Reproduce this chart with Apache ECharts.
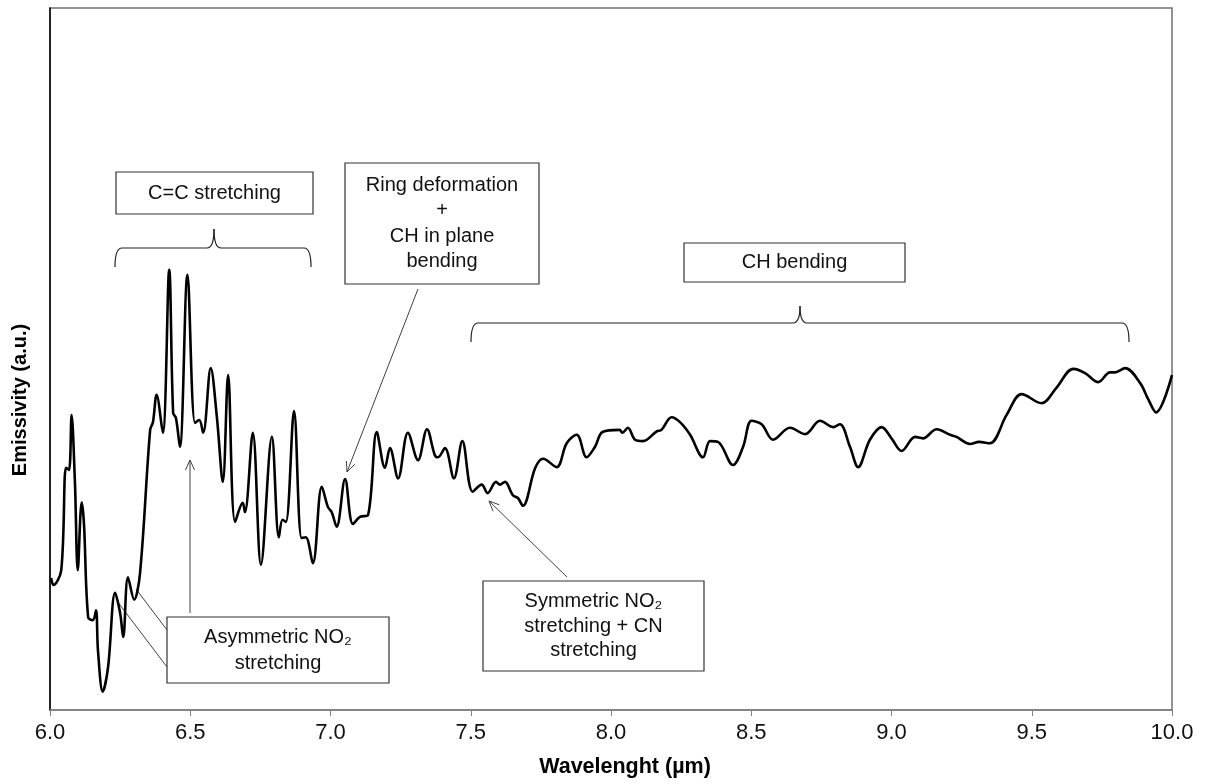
<!DOCTYPE html>
<html>
<head>
<meta charset="utf-8">
<script src="https://cdn.jsdelivr.net/npm/echarts@6/dist/echarts.min.js"></script>
<style>
html,body{margin:0;padding:0;background:#fff;}
#chart{width:1208px;height:784px;}
</style>
</head>
<body>
<div id="chart"></div>
<script>
// Wavelength (µm)
const wavelength = [6.004,6.012,6.040,6.057,6.068,6.077,6.089,6.099,6.113,6.121,6.136,6.153,6.164,6.171,6.188,6.207,6.232,6.250,6.261,6.278,6.300,6.321,6.357,6.367,6.380,6.402,6.425,6.439,6.449,6.463,6.490,6.517,6.532,6.546,6.573,6.595,6.616,6.635,6.660,6.687,6.695,6.723,6.752,6.791,6.816,6.829,6.841,6.870,6.897,6.912,6.937,6.969,6.991,7.004,7.022,7.052,7.080,7.105,7.134,7.165,7.194,7.212,7.241,7.276,7.312,7.344,7.372,7.383,7.408,7.440,7.470,7.507,7.539,7.560,7.590,7.604,7.622,7.650,7.668,7.686,7.730,7.758,7.806,7.842,7.878,7.913,7.943,7.970,8.030,8.041,8.060,8.086,8.114,8.163,8.180,8.216,8.246,8.282,8.328,8.353,8.381,8.435,8.471,8.501,8.537,8.578,8.638,8.692,8.745,8.792,8.816,8.852,8.881,8.923,8.965,9.000,9.036,9.084,9.112,9.161,9.209,9.232,9.280,9.312,9.351,9.410,9.464,9.535,9.588,9.648,9.690,9.737,9.779,9.797,9.833,9.886,9.916,9.943,10.000];
// Emissivity (a.u.)
const emissivity = [18.8,17.8,19.9,34.5,34.2,42.0,32.3,19.9,29.6,26.6,13.2,12.8,14.2,8.5,2.6,6.1,16.7,13.8,10.4,18.9,15.7,19.5,39.9,41.0,44.9,39.5,62.7,42.3,41.6,37.5,62.0,40.9,41.3,39.5,48.7,41.7,32.5,47.7,26.8,29.5,28.2,39.5,20.7,38.9,24.6,27.1,26.8,42.6,24.5,24.6,20.9,31.8,28.9,28.2,26.1,32.9,26.5,27.5,27.8,39.6,34.5,37.3,33.0,39.5,35.6,40.0,36.3,36.0,37.3,33.0,38.3,31.1,32.1,30.9,32.5,32.1,32.5,30.6,30.2,29.1,34.5,35.8,34.6,38.0,39.2,36.0,37.5,39.6,39.9,39.5,40.2,38.5,38.3,39.7,39.9,41.7,41.0,39.2,36.0,38.3,38.2,34.9,37.5,41.2,40.7,38.5,40.2,39.3,41.2,40.3,40.7,37.5,34.6,38.5,40.3,38.7,36.9,38.9,38.7,40.0,39.2,38.9,37.9,38.2,38.0,42.0,45.0,43.7,45.9,48.6,48.0,46.7,48.1,48.1,48.7,46.6,44.2,42.4,47.7];
const xTicks = [6.0,6.5,7.0,7.5,8.0,8.5,9.0,9.5,10.0];

const FONT = '"Liberation Sans", Arial, sans-serif';
const seriesData = wavelength.map((w, i) => [w, emissivity[i]]);
const LINE_STYLE = {stroke:'#404040', lineWidth:1};

function arrow(x1, y1, x2, y2) {
  const ang = Math.atan2(y2 - y1, x2 - x1);
  const L = 11, a = 0.42;
  const p1 = [x2 - L * Math.cos(ang - a), y2 - L * Math.sin(ang - a)];
  const p2 = [x2 - L * Math.cos(ang + a), y2 - L * Math.sin(ang + a)];
  return [
    {type:'line', shape:{x1, y1, x2, y2}, style:LINE_STYLE},
    {type:'polyline', shape:{points:[p1,[x2,y2],p2]}, style:{stroke:'#404040', lineWidth:1, fill:null}}
  ];
}
function brace(xL, xR, xm, yb, yh, yt) {
  const r = 7;
  const st = {stroke:'#222', lineWidth:1.2, fill:null};
  return [
    {type:'bezierCurve', shape:{x1:xL, y1:yb, x2:xL+r, y2:yh, cpx1:xL, cpy1:yh}, style:st},
    {type:'line', shape:{x1:xL+r, y1:yh, x2:xm-r, y2:yh}, style:st},
    {type:'bezierCurve', shape:{x1:xm-r, y1:yh, x2:xm, y2:yt, cpx1:xm, cpy1:yh}, style:st},
    {type:'bezierCurve', shape:{x1:xm, y1:yt, x2:xm+r, y2:yh, cpx1:xm, cpy1:yh}, style:st},
    {type:'line', shape:{x1:xm+r, y1:yh, x2:xR-r, y2:yh}, style:st},
    {type:'bezierCurve', shape:{x1:xR-r, y1:yh, x2:xR, y2:yb, cpx1:xR, cpy1:yh}, style:st}
  ];
}
function box(x, y, w, h, lines, lh) {
  const els = [{type:'rect', shape:{x, y, width:w, height:h}, style:{fill:'#fff', stroke:'#333', lineWidth:1.2}, z:10}];
  const cx = x + w / 2;
  const total = lh * lines.length;
  lines.forEach((t, i) => {
    els.push({type:'text', x:cx, y: y + h/2 - total/2 + lh*(i+0.5), z:11,
      style:{text:t, font:'20px ' + FONT, fill:'#111', align:'center', verticalAlign:'middle'}});
  });
  return els;
}

const graphics = [].concat(
  box(116, 172, 197, 42, ['C=C stretching'], 24),
  brace(115, 311, 214, 267, 248, 229),
  box(345, 163, 194, 121, ['Ring deformation', '+', 'CH in plane', 'bending'], 25.5),
  arrow(418, 289, 347, 472),
  box(684, 243, 221, 39, ['CH bending'], 24),
  brace(471, 1129, 800, 342, 323, 306),
  box(483, 581, 221, 90, ['Symmetric NO\u2082', 'stretching + CN', 'stretching'], 24.5),
  arrow(567, 577, 489, 501),
  box(167, 617, 222, 66, ['Asymmetric NO\u2082', 'stretching'], 26),
  [
    {type:'line', shape:{x1:167, y1:630, x2:136, y2:589}, style:LINE_STYLE},
    {type:'line', shape:{x1:167, y1:667, x2:117, y2:601}, style:LINE_STYLE}
  ],
  arrow(190, 613, 190, 460),
  [{type:'text', x:20, y:400, rotation:Math.PI/2,
    style:{text:'Emissivity (a.u.)', font:'bold 20px ' + FONT, fill:'#000', align:'center', verticalAlign:'middle'}}]
);

const chart = echarts.init(document.getElementById('chart'), null, {renderer:'canvas'});
chart.setOption({
  animation: false,
  backgroundColor: '#fff',
  grid: {left: 50, right: 36, top: 8, bottom: 74, show: true, borderColor: '#707070', borderWidth: 1.5},
  xAxis: {
    type: 'value', min: 6, max: 10, interval: 0.5,
    name: 'Wavelenght (\u00b5m)', nameLocation: 'middle', nameGap: 46,
    nameTextStyle: {fontFamily: FONT, fontSize: 21.5, fontWeight: 'bold', color: '#000', padding: [0, 0, 0, 28]},
    axisLine: {show: true, lineStyle: {color: '#808080', width: 1.5}},
    axisTick: {show: true, length: 6, lineStyle: {color: '#808080'}},
    axisLabel: {fontFamily: FONT, fontSize: 22, color: '#111', margin: 12,
      formatter: v => xTicks.includes(v) ? v.toFixed(1) : ''},
    splitLine: {show: false}
  },
  yAxis: {
    type: 'value', min: 0, max: 100,
    axisLine: {show: true, lineStyle: {color: '#000', width: 1.5}},
    axisTick: {show: false}, axisLabel: {show: false}, splitLine: {show: false}
  },
  series: [{
    type: 'line', data: seriesData, smooth: 0.35, showSymbol: false,
    lineStyle: {color: '#000', width: 2.6}, z: 5
  }],
  graphic: graphics
});
</script>
</body>
</html>
